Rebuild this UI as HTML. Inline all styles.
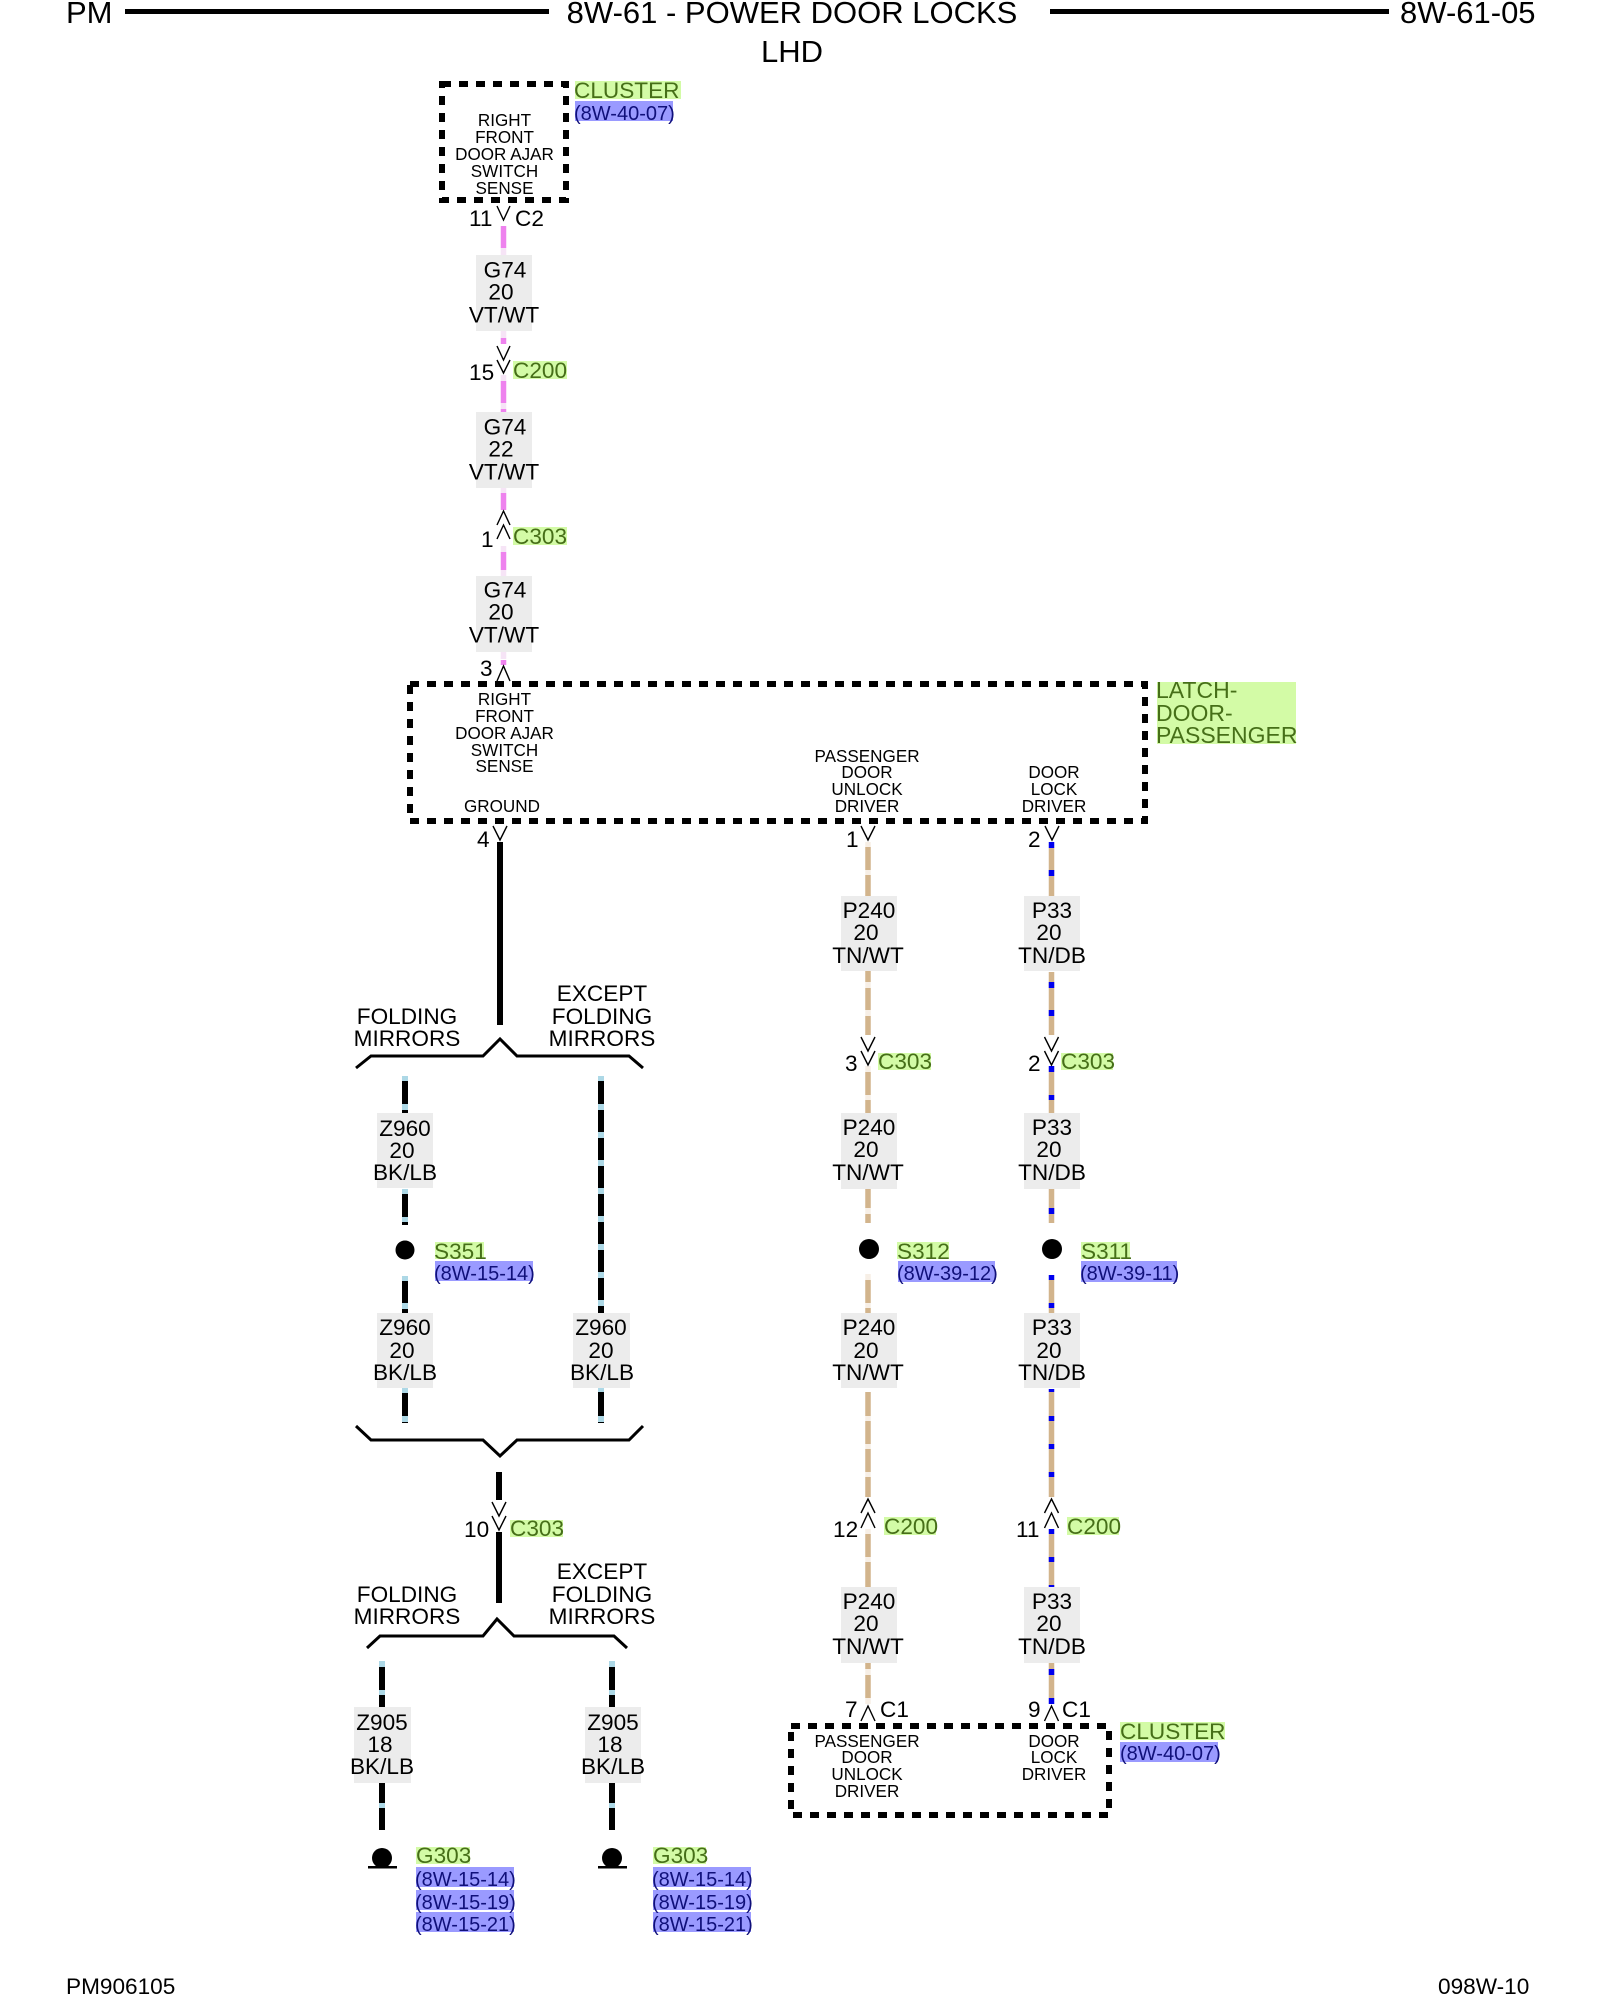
<!DOCTYPE html>
<html>
<head>
<meta charset="utf-8">
<title>8W-61 - POWER DOOR LOCKS</title>
<style>
html,body{margin:0;padding:0;background:#fff;width:1600px;height:2000px;overflow:hidden}
svg{display:block}
text{font-family:"Liberation Sans",Arial,sans-serif;fill:#000}
.h{font-size:31px}
.l{font-size:22.6px}
.s{font-size:17.1px;text-anchor:middle}
.m{text-anchor:middle}
.g{font-size:22.6px;fill:#466f18}
.lt{font-size:23px;fill:#466f18}
.b{font-size:20px;fill:#10107a}
.gb{fill:#d3fba6}
.bb{fill:#9a9aff}
.w{fill:#ececec}
.box{fill:none;stroke:#000;stroke-width:6;stroke-dasharray:9 8}
.c{fill:none;stroke:#000;stroke-width:1.4}
.br{fill:none;stroke:#000;stroke-width:3}
.pk{fill:none;stroke:#ee82ee;stroke-width:5.5}
.pt{fill:none;stroke:#f6e4f6;stroke-width:5.5}
.tn{fill:none;stroke:#d2b48c;stroke-width:5.5}
.tt{fill:none;stroke:#f7efe6;stroke-width:5.5}
.db{fill:none;stroke:#0000ee;stroke-width:5.5}
.bk{fill:none;stroke:#000;stroke-width:6}
.lb{fill:none;stroke:#add8e6;stroke-width:6}
</style>
</head>
<body>
<svg width="1600" height="2000" viewBox="0 0 1600 2000" xmlns="http://www.w3.org/2000/svg">
<!-- header -->
<rect x="125" y="9" width="424" height="5"/>
<rect x="1050" y="9" width="339" height="5"/>
<text class="h" x="66" y="23">PM</text>
<text class="h m" x="792" y="23">8W-61 - POWER DOOR LOCKS</text>
<text class="h m" x="792" y="62">LHD</text>
<text class="h" x="1400" y="23">8W-61-05</text>
<text class="l" x="66" y="1994">PM906105</text>
<text class="l" x="1438" y="1994">098W-10</text>

<!-- boxes -->
<rect class="box" x="442" y="84" width="124" height="116"/>
<rect class="box" x="410" y="684" width="735" height="137"/>
<rect class="box" x="791" y="1726" width="318" height="89"/>

<!-- wire label backgrounds -->
<rect class="w" x="476" y="255" width="56" height="76"/>
<rect class="w" x="476" y="412" width="56" height="76"/>
<rect class="w" x="476" y="576" width="56" height="76"/>
<rect class="w" x="841" y="896" width="56" height="75"/>
<rect class="w" x="1024" y="896" width="56" height="75"/>
<rect class="w" x="841" y="1113" width="56" height="76"/>
<rect class="w" x="1024" y="1113" width="56" height="76"/>
<rect class="w" x="841" y="1313" width="56" height="75"/>
<rect class="w" x="1024" y="1313" width="56" height="75"/>
<rect class="w" x="841" y="1587" width="56" height="76"/>
<rect class="w" x="1024" y="1587" width="56" height="76"/>
<rect class="w" x="377" y="1113" width="56" height="75"/>
<rect class="w" x="377" y="1313" width="56" height="75"/>
<rect class="w" x="573" y="1313" width="57" height="75"/>
<rect class="w" x="354" y="1707" width="57" height="76"/>
<rect class="w" x="585" y="1707" width="56" height="76"/>

<!-- pink wire -->
<path class="pk" d="M503.5 226V248M503.5 338V344M503.5 381V403M503.5 409V412M503.5 493V510M503.5 552V570M503.5 660V665"/>
<path class="pt" d="M503.5 248V255M503.5 331V338M503.5 375V381M503.5 403V409M503.5 488V493M503.5 546V552M503.5 570V576M503.5 652V659"/>

<!-- tan wire column 1 -->
<path class="tn" d="M868 847V870M868 875V896M868 971V982M868 988V1010M868 1016V1035M868 1072V1095M868 1100V1113M868 1189V1208M868 1214V1223M868 1280V1303M868 1308V1313M868 1392V1416M868 1421V1444M868 1449V1472M868 1477V1497M868 1534V1557M868 1562V1587M868 1663V1669M868 1675V1698"/>
<path class="tt" d="M868 842V847M868 870V875M868 982V988M868 1010V1016M868 1066V1072M868 1095V1100M868 1208V1214M868 1274V1280M868 1303V1308M868 1416V1421M868 1444V1449M868 1472V1477M868 1529V1534M868 1557V1562M868 1669V1675M868 1698V1704"/>

<!-- tan wire column 2 -->
<path class="tn" d="M1051.5 848V896M1051.5 972V1035M1051.5 1072V1113M1051.5 1189V1223M1051.5 1280V1313M1051.5 1392V1497M1051.5 1534V1587M1051.5 1663V1698"/>
<path class="db" d="M1051.5 842V848M1051.5 870V876M1051.5 982V988M1051.5 1010V1016M1051.5 1066V1072M1051.5 1095V1100M1051.5 1208V1214M1051.5 1275V1280M1051.5 1303V1308M1051.5 1389V1392M1051.5 1416V1421M1051.5 1444V1449M1051.5 1472V1477M1051.5 1529V1534M1051.5 1557V1562M1051.5 1585V1587M1051.5 1669V1675M1051.5 1698V1704"/>

<!-- black wires -->
<path class="bk" d="M500 842V1025M499 1472V1500M499 1532V1603"/>
<path class="bk" d="M405 1081V1113M405 1194V1225M405 1281V1313M405 1393V1423M601 1076V1313M601 1388V1423M382 1662V1707M612 1662V1707M382 1783V1830M612 1783V1830"/>
<path class="lb" d="M405 1076V1081M405 1104V1110M405 1189V1194M405 1217V1222M405 1276V1281M405 1303V1309M405 1388V1393M405 1416V1422
M601 1076V1081M601 1104V1110M601 1132V1138M601 1160V1166M601 1188V1194M601 1216V1222M601 1244V1250M601 1272V1278M601 1300V1306M601 1388V1392M601 1416V1422
M382 1661V1667M382 1690V1695M382 1803V1808M612 1661V1667M612 1690V1695M612 1803V1808"/>

<!-- brackets -->
<polyline class="br" points="356,1068 371,1056 483,1056 500,1039 517,1056 629,1056 643,1068"/>
<polyline class="br" points="356,1426 371,1440 483,1440 500,1456 517,1440 629,1440 643,1426"/>
<polyline class="br" points="367,1648 380,1636 483,1636 497,1619 514,1636 614,1636 627,1648"/>

<!-- connector chevrons -->
<polyline class="c" points="497,206 503.5,220 510,206"/>
<polyline class="c" points="497,346 503.5,360 510,346"/>
<polyline class="c" points="497,360 503.5,373 510,360"/>
<polyline class="c" points="497,525 503.5,511 510,525"/>
<polyline class="c" points="497,539 503.5,525 510,539"/>
<polyline class="c" points="497,681 503.5,666 510,681"/>
<polyline class="c" points="493,826 500,840 507,826"/>
<polyline class="c" points="861,826 868,840 875,826"/>
<polyline class="c" points="1045,826 1052,840 1059,826"/>
<polyline class="c" points="861,1037 868,1051 875,1037"/>
<polyline class="c" points="861,1051 868,1065 875,1051"/>
<polyline class="c" points="1044.5,1037 1051.5,1051 1058.5,1037"/>
<polyline class="c" points="1044.5,1051 1051.5,1065 1058.5,1051"/>
<polyline class="c" points="861,1513 868,1499 875,1513"/>
<polyline class="c" points="861,1528 868,1513 875,1528"/>
<polyline class="c" points="1044.5,1513 1051.5,1499 1058.5,1513"/>
<polyline class="c" points="1044.5,1528 1051.5,1513 1058.5,1528"/>
<polyline class="c" points="492,1502 499,1516 506,1502"/>
<polyline class="c" points="492,1516 499,1530 506,1516"/>
<polyline class="c" points="861,1721 868,1706 875,1721"/>
<polyline class="c" points="1044.5,1721 1051.5,1706 1058.5,1721"/>

<!-- splices and grounds -->
<circle cx="405" cy="1250" r="9.5"/>
<circle cx="869" cy="1249" r="10"/>
<circle cx="1052" cy="1249" r="10"/>
<circle cx="382" cy="1858" r="10"/>
<circle cx="612" cy="1858" r="10"/>
<rect x="368" y="1866" width="29" height="2.5"/>
<rect x="598" y="1866" width="29" height="2.5"/>

<!-- highlighted backgrounds -->
<rect class="gb" x="575" y="81" width="106" height="18"/>
<rect class="bb" x="575" y="101" width="98" height="20"/>
<rect class="gb" x="513" y="361" width="54" height="18"/>
<rect class="gb" x="513" y="527" width="54" height="18"/>
<rect class="gb" x="1157" y="682" width="139" height="62"/>
<rect class="gb" x="878" y="1053" width="53" height="17"/>
<rect class="gb" x="1061" y="1053" width="52" height="17"/>
<rect class="gb" x="435" y="1242" width="49" height="17"/>
<rect class="bb" x="435" y="1261" width="98" height="20"/>
<rect class="gb" x="897" y="1242" width="52" height="17"/>
<rect class="bb" x="898" y="1261" width="97" height="21"/>
<rect class="gb" x="1081" y="1242" width="49" height="17"/>
<rect class="bb" x="1081" y="1261" width="96" height="21"/>
<rect class="gb" x="884" y="1517" width="52" height="18"/>
<rect class="gb" x="1067" y="1517" width="52" height="18"/>
<rect class="gb" x="510" y="1520" width="53" height="17"/>
<rect class="gb" x="1120" y="1722" width="105" height="18"/>
<rect class="bb" x="1120" y="1742" width="98" height="20"/>
<rect class="gb" x="416" y="1847" width="54" height="17"/>
<rect class="bb" x="416" y="1867" width="98" height="20"/>
<rect class="bb" x="416" y="1890" width="98" height="20"/>
<rect class="bb" x="416" y="1912" width="98" height="20"/>
<rect class="gb" x="653" y="1847" width="53" height="17"/>
<rect class="bb" x="653" y="1867" width="98" height="20"/>
<rect class="bb" x="653" y="1890" width="98" height="20"/>
<rect class="bb" x="653" y="1912" width="98" height="20"/>

<!-- green & blue labels -->
<text class="g" x="574" y="98">CLUSTER</text>
<text class="b" x="574" y="120">(8W-40-07)</text>
<text class="g" x="513" y="378">C200</text>
<text class="g" x="513" y="544">C303</text>
<text class="lt" x="1156" y="698">LATCH-</text>
<text class="lt" x="1156" y="721">DOOR-</text>
<text class="lt" x="1156" y="743">PASSENGER</text>
<text class="g" x="878" y="1069">C303</text>
<text class="g" x="1061" y="1069">C303</text>
<text class="g" x="434" y="1259">S351</text>
<text class="b" x="434" y="1280">(8W-15-14)</text>
<text class="g" x="897" y="1259">S312</text>
<text class="b" x="897" y="1280">(8W-39-12)</text>
<text class="g" x="1081" y="1259">S311</text>
<text class="b" x="1080" y="1280">(8W-39-11)</text>
<text class="g" x="884" y="1534">C200</text>
<text class="g" x="1067" y="1534">C200</text>
<text class="g" x="510" y="1536">C303</text>
<text class="g" x="1120" y="1739">CLUSTER</text>
<text class="b" x="1120" y="1760">(8W-40-07)</text>
<text class="g" x="416" y="1863">G303</text>
<text class="b" x="415" y="1886">(8W-15-14)</text>
<text class="b" x="415" y="1909">(8W-15-19)</text>
<text class="b" x="415" y="1931">(8W-15-21)</text>
<text class="g" x="653" y="1863">G303</text>
<text class="b" x="652" y="1886">(8W-15-14)</text>
<text class="b" x="652" y="1909">(8W-15-19)</text>
<text class="b" x="652" y="1931">(8W-15-21)</text>

<!-- pin numbers -->
<text class="l" x="469" y="226">11</text>
<text class="l" x="515" y="226">C2</text>
<text class="l" x="469" y="380">15</text>
<text class="l" x="481" y="547">1</text>
<text class="l" x="480" y="676">3</text>
<text class="l" x="477" y="847">4</text>
<text class="l" x="846" y="847">1</text>
<text class="l" x="1028" y="847">2</text>
<text class="l" x="845" y="1071">3</text>
<text class="l" x="1028" y="1071">2</text>
<text class="l" x="833" y="1537">12</text>
<text class="l" x="1016" y="1537">11</text>
<text class="l" x="464" y="1537">10</text>
<text class="l" x="845" y="1717">7</text>
<text class="l" x="880" y="1717">C1</text>
<text class="l" x="1028" y="1717">9</text>
<text class="l" x="1062" y="1717">C1</text>

<!-- wire labels -->
<text class="l m" x="505" y="277.5">G74</text><text class="l m" x="501" y="299.5">20</text><text class="l m" x="504" y="322.5">VT/WT</text>
<text class="l m" x="505" y="434.5">G74</text><text class="l m" x="501" y="456.5">22</text><text class="l m" x="504" y="479.5">VT/WT</text>
<text class="l m" x="505" y="597.5">G74</text><text class="l m" x="501" y="619.5">20</text><text class="l m" x="504" y="642.5">VT/WT</text>
<text class="l m" x="869" y="918">P240</text><text class="l m" x="866" y="940">20</text><text class="l m" x="868" y="963">TN/WT</text>
<text class="l m" x="1052" y="918">P33</text><text class="l m" x="1049" y="940">20</text><text class="l m" x="1052" y="963">TN/DB</text>
<text class="l m" x="869" y="1135">P240</text><text class="l m" x="866" y="1157">20</text><text class="l m" x="868" y="1180">TN/WT</text>
<text class="l m" x="1052" y="1135">P33</text><text class="l m" x="1049" y="1157">20</text><text class="l m" x="1052" y="1180">TN/DB</text>
<text class="l m" x="869" y="1335">P240</text><text class="l m" x="866" y="1358">20</text><text class="l m" x="868" y="1380">TN/WT</text>
<text class="l m" x="1052" y="1335">P33</text><text class="l m" x="1049" y="1358">20</text><text class="l m" x="1052" y="1380">TN/DB</text>
<text class="l m" x="869" y="1609">P240</text><text class="l m" x="866" y="1631">20</text><text class="l m" x="868" y="1654">TN/WT</text>
<text class="l m" x="1052" y="1609">P33</text><text class="l m" x="1049" y="1631">20</text><text class="l m" x="1052" y="1654">TN/DB</text>
<text class="l m" x="405" y="1136">Z960</text><text class="l m" x="402" y="1158">20</text><text class="l m" x="405" y="1180">BK/LB</text>
<text class="l m" x="405" y="1335">Z960</text><text class="l m" x="402" y="1358">20</text><text class="l m" x="405" y="1380">BK/LB</text>
<text class="l m" x="601" y="1335">Z960</text><text class="l m" x="601" y="1358">20</text><text class="l m" x="602" y="1380">BK/LB</text>
<text class="l m" x="382" y="1730">Z905</text><text class="l m" x="380" y="1752">18</text><text class="l m" x="382" y="1774">BK/LB</text>
<text class="l m" x="613" y="1730">Z905</text><text class="l m" x="610" y="1752">18</text><text class="l m" x="613" y="1774">BK/LB</text>

<!-- bracket labels -->
<text class="l m" x="407" y="1024">FOLDING</text>
<text class="l m" x="407" y="1046">MIRRORS</text>
<text class="l m" x="602" y="1001">EXCEPT</text>
<text class="l m" x="602" y="1024">FOLDING</text>
<text class="l m" x="602" y="1046">MIRRORS</text>
<text class="l m" x="407" y="1602">FOLDING</text>
<text class="l m" x="407" y="1624">MIRRORS</text>
<text class="l m" x="602" y="1579">EXCEPT</text>
<text class="l m" x="602" y="1602">FOLDING</text>
<text class="l m" x="602" y="1624">MIRRORS</text>

<!-- box text -->
<text class="s" x="504.5" y="126">RIGHT</text>
<text class="s" x="504.5" y="143">FRONT</text>
<text class="s" x="504.5" y="160">DOOR AJAR</text>
<text class="s" x="504.5" y="177">SWITCH</text>
<text class="s" x="504.5" y="194">SENSE</text>
<text class="s" x="504.5" y="705">RIGHT</text>
<text class="s" x="504.5" y="722">FRONT</text>
<text class="s" x="504.5" y="739">DOOR AJAR</text>
<text class="s" x="504.5" y="756">SWITCH</text>
<text class="s" x="504.5" y="772">SENSE</text>
<text class="s" x="502" y="812">GROUND</text>
<text class="s" x="867" y="762">PASSENGER</text>
<text class="s" x="867" y="778">DOOR</text>
<text class="s" x="867" y="795">UNLOCK</text>
<text class="s" x="867" y="812">DRIVER</text>
<text class="s" x="1054" y="778">DOOR</text>
<text class="s" x="1054" y="795">LOCK</text>
<text class="s" x="1054" y="812">DRIVER</text>
<text class="s" x="867" y="1747">PASSENGER</text>
<text class="s" x="867" y="1763">DOOR</text>
<text class="s" x="867" y="1780">UNLOCK</text>
<text class="s" x="867" y="1797">DRIVER</text>
<text class="s" x="1054" y="1747">DOOR</text>
<text class="s" x="1054" y="1763">LOCK</text>
<text class="s" x="1054" y="1780">DRIVER</text>
</svg>
</body>
</html>
